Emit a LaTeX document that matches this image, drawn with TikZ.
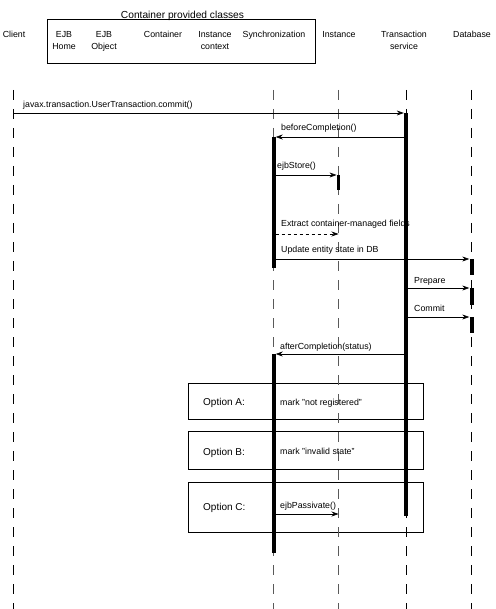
\documentclass[tikz,border=0pt]{standalone}
\usepackage{fontspec}
\setmainfont{Liberation Sans}
\usetikzlibrary{arrows.meta}
\begin{document}
\begin{tikzpicture}[x=1pt,y=-1pt,
  lifeline/.style={line width=0.8pt, dash pattern=on 10pt off 9pt},
  bar/.style={fill=black, draw=none, inner sep=0pt, minimum width=4pt, anchor=north},
  msg/.style={line width=0.7pt, -{Stealth[length=7pt,width=5pt]}},
  dmsg/.style={msg, dash pattern=on 3pt off 3pt},
  lbl/.style={font=\fontsize{8.8}{10}\selectfont, anchor=base west, inner sep=0pt},
  hdr/.style={font=\fontsize{8.8}{12}\selectfont, align=center, inner sep=0pt, anchor=north},
  optbox/.style={draw, line width=0.7pt, inner sep=0pt, minimum width=235pt, anchor=north west},
  optlbl/.style={font=\fontsize{10}{12}\selectfont, anchor=base west, inner sep=0pt}]
\useasboundingbox (0,0) rectangle (495,609);

% header
\node[font=\fontsize{10.2}{12}\selectfont, inner sep=0pt] (title) at (182.5,15.5) {Container provided classes};
\node[draw, line width=0.8pt, inner sep=0pt, minimum width=268pt, minimum height=44pt, anchor=north west] (cbox) at (47,19) {};
\node[hdr] (hcl) at (14,31) {Client};
\node[hdr] (hhome) at (64,31) {EJB\\Home};
\node[hdr] (hobj) at (104,31) {EJB\\Object};
\node[hdr] (hcont) at (163,31) {Container};
\node[hdr] (hctx) at (215,31) {Instance\\context};
\node[hdr] (hsy) at (274,31) {Synchronization};
\node[hdr] (hin) at (339,31) {Instance};
\node[hdr] (htx) at (404,31) {Transaction\\service};
\node[hdr] (hdb) at (472,31) {Database};

% option boxes
\node[optbox, minimum height=36pt] (optA) at (188,383) {};
\node[optbox, minimum height=38pt] (optB) at (188,431) {};
\node[optbox, minimum height=50pt] (optC) at (188,482) {};
\node[optlbl] (oA) at (203,405) {Option A:};
\node[optlbl] (oB) at (203,455) {Option B:};
\node[optlbl] (oC) at (203,510) {Option C:};

% lifelines
\coordinate (lcl0) at (13,90);  \coordinate (lcl1) at (13,609);
\coordinate (lsy0) at (273.5,90); \coordinate (lsy1) at (273.5,609);
\coordinate (lin0) at (338.5,90); \coordinate (lin1) at (338.5,609);
\coordinate (ltx0) at (406,90); \coordinate (ltx1) at (406,609);
\coordinate (ldb0) at (471.5,90); \coordinate (ldb1) at (471.5,609);
\draw[lifeline] (lcl0) -- (lcl1);
\draw[lifeline, gray!70!black] (lsy0) -- (lsy1);
\draw[lifeline, gray!70!black] (lin0) -- (lin1);
\draw[lifeline] (ltx0) -- (ltx1);
\draw[lifeline] (ldb0) -- (ldb1);

% activation bars
\node[bar, minimum height=403pt] (txa) at (406,113) {};
\node[bar, minimum height=131pt] (sy1) at (273.5,137) {};
\node[bar, minimum height=15pt, minimum width=3.5pt] (in1) at (338.5,175) {};
\node[bar, minimum height=16pt] (db1) at (471.5,259) {};
\node[bar, minimum height=17pt] (db2) at (471.5,288) {};
\node[bar, minimum height=16pt] (db3) at (471.5,317) {};
\node[bar, minimum height=199pt] (sy2) at (273.5,354) {};

% messages
\coordinate (cl1) at (13,113);
\draw[msg] (cl1) -- (txa.north west);
\node[lbl] (m1) at (23,108) {javax.transaction.UserTransaction.commit()};

\draw[msg] (txa.west |- sy1.north) -- (sy1.north east);
\node[lbl] (m2) at (281,131) {beforeCompletion()};

\draw[msg] (sy1.east |- in1.north) -- (in1.north west);
\node[lbl] (m3) at (277,169) {ejbStore()};

\coordinate (ex) at (338.5,234);
\draw[dmsg] (sy1.east |- ex) -- (ex);
\node[lbl] (m4) at (281,226) {Extract container-managed fields};

\draw[msg] (sy1.east |- db1.north) -- (db1.north west);
\node[lbl] (m5) at (281,252) {Update entity state in DB};

\draw[msg] (txa.east |- db2.north) -- (db2.north west);
\node[lbl] (m6) at (414,283) {Prepare};

\draw[msg] (txa.east |- db3.north) -- (db3.north west);
\node[lbl] (m7) at (414,311) {Commit};

\draw[msg] (txa.west |- sy2.north) -- (sy2.north east);
\node[lbl] (m8) at (280,349) {afterCompletion(status)};

\node[lbl] (ma) at (280,405) {mark "not registered"};
\node[lbl] (mb) at (280,454) {mark "invalid state"};

\coordinate (ps) at (338.5,514);
\draw[msg] (sy2.east |- ps) -- (ps);
\node[lbl] (m9) at (280,508) {ejbPassivate()};
\end{tikzpicture}
\end{document}
